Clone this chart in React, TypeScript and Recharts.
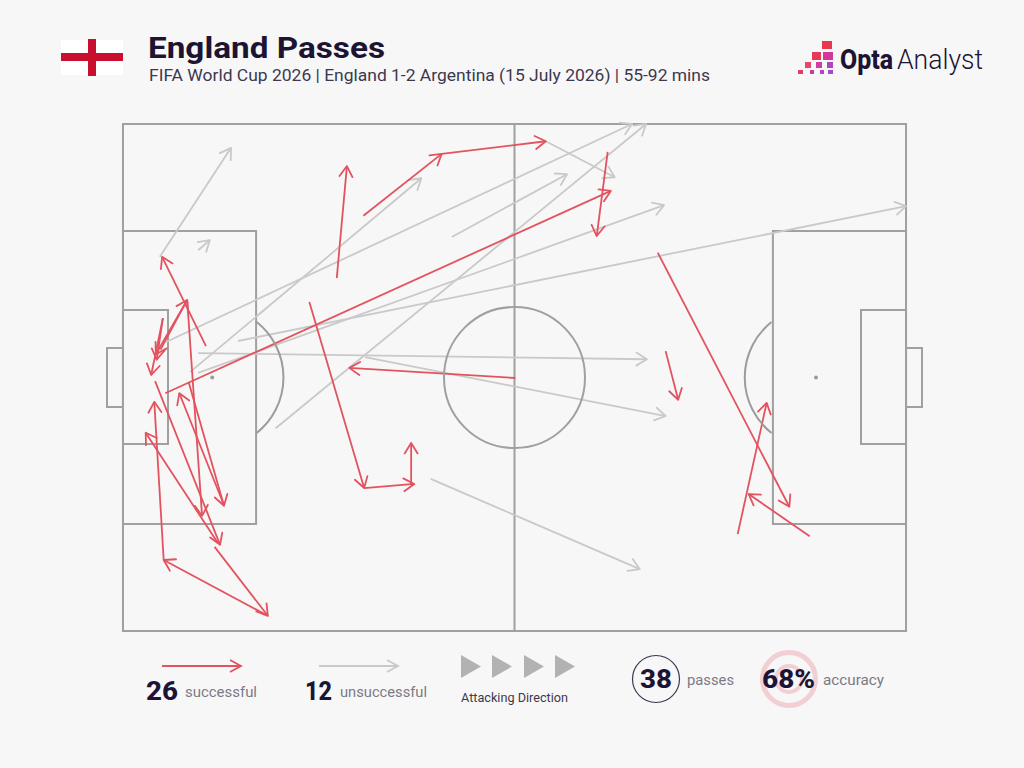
import { ComposedChart, Line, XAxis, YAxis, ReferenceArea, ReferenceLine, ReferenceDot } from 'recharts';

// passes on a 0-100 pitch: [startX, startY, endX, endY], y runs from the top touchline
const successfulPasses = [
  [30.7, 18.1, 40.7, 5.9],
  [40.7, 5.9, 54.0, 3.4],
  [27.3, 30.4, 28.6, 8.3],
  [61.9, 5.5, 60.5, 22.1],
  [5.4, 53.1, 62.3, 13.2],
  [50.1, 50.1, 28.9, 48.1],
  [23.8, 35.1, 30.8, 71.8],
  [30.8, 71.8, 37.2, 71.0],
  [36.8, 71.0, 36.8, 62.9],
  [69.3, 44.8, 70.9, 54.4],
  [68.3, 25.4, 85.1, 75.5],
  [78.5, 80.9, 82.2, 55.0],
  [87.7, 81.3, 79.9, 73.0],
  [10.6, 43.8, 5.0, 26.2],
  [4.8, 44.5, 8.2, 34.7],
  [8.2, 34.7, 10.1, 77.3],
  [5.1, 38.3, 4.3, 46.5],
  [5.1, 38.3, 3.6, 49.5],
  [8.2, 34.7, 4.2, 45.4],
  [4.1, 50.7, 12.4, 83.0],
  [12.1, 82.6, 2.9, 60.9],
  [11.7, 83.4, 18.5, 97.0],
  [18.5, 97.0, 5.2, 86.0],
  [5.2, 86.0, 4.0, 54.8],
  [12.8, 74.8, 7.2, 53.1],
  [8.4, 51.0, 12.9, 75.3],
];

const unsuccessfulPasses = [
  [4.7, 26.2, 13.8, 4.7],
  [9.6, 24.9, 11.1, 22.9],
  [5.5, 43.0, 65.0, 0],
  [8.6, 48.9, 38.1, 10.7],
  [9.6, 49.1, 69.1, 16.0],
  [14.7, 42.8, 100, 16.2],
  [9.6, 45.2, 66.9, 46.4],
  [30.9, 46.0, 69.3, 57.6],
  [19.5, 60.0, 66.8, 0],
  [42.0, 22.3, 56.7, 9.9],
  [39.3, 70.0, 66.0, 87.8],
  [54.0, 3.4, 62.8, 10.5],
];

// pitch boxes: [x1, y1, x2, y2]
const pitchBoxes = [
  [0, 0, 100, 100],
  [0, 21.1, 17.0, 78.9],
  [0, 36.7, 5.75, 63.1],
  [-2.04, 44.2, 0, 55.8],
  [83.0, 21.1, 100, 78.9],
  [94.25, 36.7, 100, 63.1],
  [100, 44.2, 102.04, 55.8],
];
const penaltySpots = [11.4, 88.5];

const totals = { successful: 26, unsuccessful: 12, passes: 38, accuracy: '68%' };

const RED = '#e2535f';
const GREY = '#c9c9c9';
const PITCH = '#a0a0a0';
const DARK = '#1d1433';
const MUTED = '#7b7a86';
const SANS = 'Roboto, sans-serif';

const toLine = (p: number[]) => [{ x: p[0], y: p[1] }, { x: p[2], y: p[3] }];

const Arc = (side: 'left' | 'right') => (props: any) => {
  const { cx, cy } = props;
  const r = 71;
  const dx = 44.5;
  const dy = 55.5;
  const d = side === 'left'
    ? `M${cx + dx},${cy - dy} A${r},${r} 0 0 1 ${cx + dx},${cy + dy}`
    : `M${cx - dx},${cy - dy} A${r},${r} 0 0 0 ${cx - dx},${cy + dy}`;
  return <path d={d} fill="none" stroke="#9c9c9c" strokeWidth={2} />;
};

function Head({ id, color }: { id: string; color: string }) {
  return (
    <marker id={id} markerUnits="userSpaceOnUse" viewBox="-14 -9 16 18" markerWidth={16} markerHeight={18} refX={0} refY={0} orient="auto" overflow="visible">
      <path d="M-10.5,-6.5 L0,0 L-10.5,6.5" fill="none" stroke={color} strokeWidth={1.8} strokeLinecap="round" strokeLinejoin="round" />
    </marker>
  );
}

function PassChart() {
  return (
    <ComposedChart width={1024} height={768} margin={{ top: 124, right: 102, bottom: 137, left: 107 }}>
      <defs>
        <Head id="headRed" color={RED} />
        <Head id="headGrey" color={GREY} />
      </defs>
      <XAxis type="number" dataKey="x" domain={[-2.04, 102.04]} hide allowDataOverflow />
      <YAxis type="number" dataKey="y" domain={[0, 100]} reversed hide />
      {pitchBoxes.map((b, i) => (
        <ReferenceArea key={i} x1={b[0]} y1={b[1]} x2={b[2]} y2={b[3]} fill="none" fillOpacity={0} stroke={PITCH} strokeWidth={2} ifOverflow="visible" />
      ))}
      <ReferenceLine segment={[{ x: 50, y: 0 }, { x: 50, y: 100 }]} stroke={PITCH} strokeWidth={2} />
      <ReferenceDot x={50} y={50} r={70.5} fill="none" stroke={PITCH} strokeWidth={2} />
      {penaltySpots.map((x) => (
        <ReferenceDot key={x} x={x} y={50} r={2} fill="#9c9c9c" stroke="none" />
      ))}
      <ReferenceDot x={penaltySpots[0]} y={50} shape={Arc('left')} />
      <ReferenceDot x={penaltySpots[1]} y={50} shape={Arc('right')} />
      {unsuccessfulPasses.map((p, i) => (
        <Line key={`u${i}`} data={toLine(p)} dataKey="y" type="linear" stroke={GREY} strokeWidth={1.8} dot={false} activeDot={false} isAnimationActive={false} markerEnd="url(#headGrey)" />
      ))}
      {successfulPasses.map((p, i) => (
        <Line key={`s${i}`} data={toLine(p)} dataKey="y" type="linear" stroke={RED} strokeWidth={1.8} dot={false} activeDot={false} isAnimationActive={false} markerEnd="url(#headRed)" />
      ))}
    </ComposedChart>
  );
}

function Overlay() {
  const label = { fontFamily: SANS, fontSize: 14, fill: MUTED };
  const big = { fontFamily: SANS, fontSize: 25, fontWeight: 800, fill: DARK };
  return (
    <svg width={1024} height={768} style={{ position: 'absolute', left: 0, top: 0 }}>
      {/* flag */}
      <rect x={61} y={40} width={62} height={35} fill="#fff" />
      <rect x={61} y={53} width={62} height={8} fill="#c8102e" />
      <rect x={88} y={39} width={8} height={37} fill="#c8102e" />

      <text x={148} y={58} fontFamily={SANS} fontSize={29} fontWeight={700} fill={DARK} textLength={237} lengthAdjust="spacingAndGlyphs">England Passes</text>
      <text x={149} y={81} fontFamily={SANS} fontSize={16} fill="#3d3850" textLength={561} lengthAdjust="spacingAndGlyphs">FIFA World Cup 2026 | England 1-2 Argentina (15 July 2026) | 55-92 mins</text>

      {/* logo */}
      <rect x={822} y={41} width={10} height={8} fill="#e8384f" />
      <rect x={812} y={52} width={9} height={8} fill="#e63a5c" />
      <rect x={823} y={52} width={10} height={8} fill="#d1389a" />
      <rect x={805} y={62} width={6} height={6} fill="#e8476a" />
      <rect x={816} y={62} width={6} height={6} fill="#cf3e9e" />
      <rect x={827} y={62} width={6} height={6} fill="#b045c4" />
      <rect x={798} y={70} width={5} height={4} fill="#e33d63" />
      <rect x={810} y={70} width={4} height={4} fill="#c23fa8" />
      <rect x={820} y={70} width={4} height={4} fill="#b445c0" />
      <rect x={828} y={70} width={5} height={4} fill="#a648d0" />
      <text x={840} y={69} fontFamily={SANS} fontSize={28} fontWeight={800} fill={DARK} textLength={53} lengthAdjust="spacingAndGlyphs">Opta</text>
      <text x={897} y={69} fontFamily={SANS} fontSize={28} fontWeight={300} fill={DARK} textLength={86} lengthAdjust="spacingAndGlyphs">Analyst</text>

      {/* legend */}
      <path d="M162,666 H241 M230,660 L241,666 L230,672" fill="none" stroke={RED} strokeWidth={1.8} />
      <path d="M319,666 H398 M387,660 L398,666 L387,672" fill="none" stroke={GREY} strokeWidth={1.8} />
      <text x={146} y={700} {...big} textLength={32} lengthAdjust="spacingAndGlyphs">{totals.successful}</text>
      <text x={185} y={697} {...label} textLength={72} lengthAdjust="spacingAndGlyphs">successful</text>
      <text x={305} y={700} {...big} textLength={27} lengthAdjust="spacingAndGlyphs">{totals.unsuccessful}</text>
      <text x={340} y={697} {...label} textLength={87} lengthAdjust="spacingAndGlyphs">unsuccessful</text>

      {[461, 492, 524, 555].map((x) => (
        <path key={x} d={`M${x},655 L${x + 20},666.5 L${x},678 Z`} fill="#b2b2b2" />
      ))}
      <text x={461} y={702} fontFamily={SANS} fontSize={12} fill="#3d3850" textLength={107} lengthAdjust="spacingAndGlyphs">Attacking Direction</text>

      <circle cx={656} cy={679} r={23.5} fill="none" stroke="#3d3850" strokeWidth={1.2} />
      <text x={640} y={688} {...big} textLength={32} lengthAdjust="spacingAndGlyphs">{totals.passes}</text>
      <text x={687} y={685} {...label} textLength={47} lengthAdjust="spacingAndGlyphs">passes</text>

      <circle cx={789} cy={679} r={26.5} fill="none" stroke="#f2cfd2" strokeWidth={5} />
      <circle cx={789} cy={679} r={13} fill="none" stroke="#f2cfd2" strokeWidth={4} />
      <text x={762} y={688} {...big} textLength={53} lengthAdjust="spacingAndGlyphs">{totals.accuracy}</text>
      <text x={823} y={685} {...label} textLength={61} lengthAdjust="spacingAndGlyphs">accuracy</text>
    </svg>
  );
}

export default function App() {
  return (
    <div style={{ position: 'absolute', left: 0, top: 0, width: 1024, height: 768, background: '#f7f7f7', overflow: 'hidden' }}>
      <PassChart />
      <Overlay />
    </div>
  );
}
